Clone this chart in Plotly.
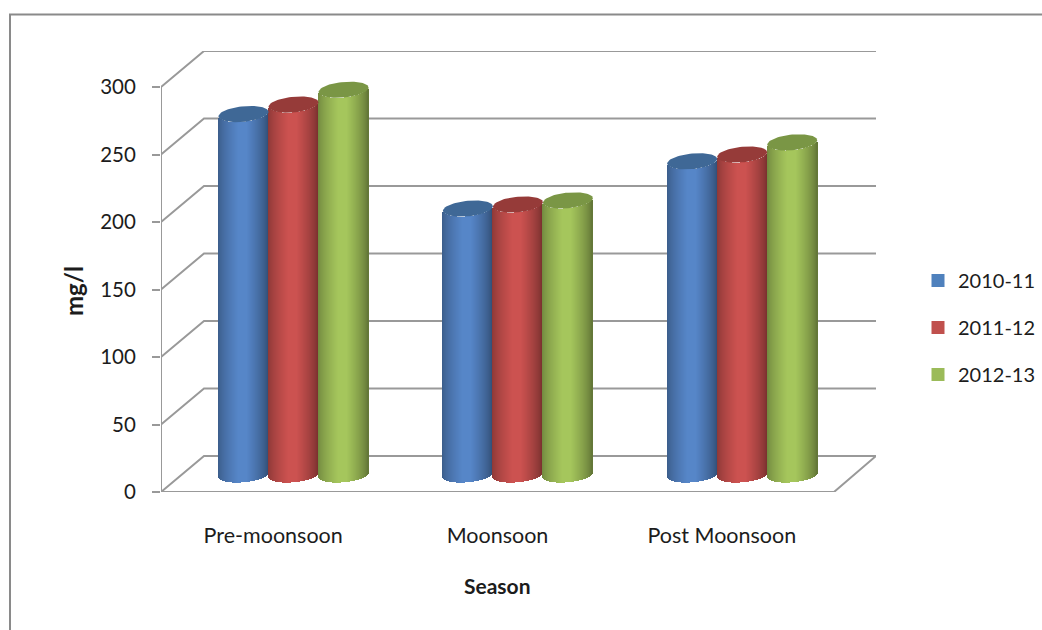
import numpy as np
import plotly.graph_objects as go

# Chart data
seasons = ["Pre-moonsoon", "Moonsoon", "Post Moonsoon"]
years = ["2010-11", "2011-12", "2012-13"]
values_2010 = [267, 197, 232]
values_2011 = [274, 200, 237]
values_2012 = [285, 203, 246]
y_ticks = [0, 50, 100, 150, 200, 250, 300]

series_values = [values_2010, values_2011, values_2012]
flat_colors = ["#4f81bd", "#c0504d", "#9bbb59"]
bright_colors = [(86, 134, 200), (204, 82, 80), (165, 198, 92)]
cap_colors = ["#3f6896", "#963b39", "#7a9645"]

# Page geometry, in pixels
FIG_W, FIG_H = 1042, 630
LEFT, RIGHT, TOP, ZERO_Y = 161, 876, 51, 492
FRONT_W = 673                 # width of the front floor edge
DEPTH_X, DEPTH_Y = 43, 36     # oblique offset of the back wall
PX_PER_UNIT = 405 / 300
PX_PER_CAT = FRONT_W / 3
CYL_PX = 50                   # cylinder diameter
SKEW, SQUASH = 2.2, 7.8       # shape of the sheared end ellipses

x_min = -0.5
x_max = x_min + (RIGHT - LEFT) / PX_PER_CAT
depth_x = DEPTH_X / PX_PER_CAT
depth_v = DEPTH_Y / PX_PER_UNIT
mid_x = 0.5 * depth_x - 0.005
mid_v = 17.5 / PX_PER_UNIT
floor_end = x_min + FRONT_W / PX_PER_CAT


def shade(rgb, u):
    """Horizontal cylinder shading for u in [-1, 1]."""
    left = np.clip((u + 1) / 0.8, 0, 1)
    right = np.clip((1 - u) / 0.85, 0, 1)
    f = min(0.68 + 0.32 * left ** 0.7, 0.58 + 0.42 * right ** 0.7)
    return "rgb(%d,%d,%d)" % tuple(int(c * f) for c in rgb)


fig = go.Figure()

slice_u = (np.arange(CYL_PX) + 0.5) / (CYL_PX / 2) - 1
slice_w = 1.0 / PX_PER_CAT
radius = (CYL_PX / 2) / PX_PER_CAT

for s, vals in enumerate(series_values):
    xs, bases, heights, colors = [], [], [], []
    for c, v in enumerate(vals):
        cx = c + mid_x + (s - 1) * CYL_PX / PX_PER_CAT
        for u in slice_u:
            xs.append(cx + u * radius)
            bases.append(mid_v + (SKEW * u - SQUASH * np.sqrt(1 - u * u)) / PX_PER_UNIT)
            heights.append(v)
            colors.append(shade(bright_colors[s], u))
    fig.add_trace(go.Bar(
        x=xs, y=heights, base=bases, width=slice_w,
        marker=dict(color=colors, line=dict(width=0)),
        showlegend=False, hoverinfo="skip", cliponaxis=False,
    ))

# Cylinder top caps
t = np.linspace(0, 2 * np.pi, 73)
for s, vals in enumerate(series_values):
    for c, v in enumerate(vals):
        cx = c + mid_x + (s - 1) * CYL_PX / PX_PER_CAT
        fig.add_trace(go.Scatter(
            x=cx + radius * np.cos(t),
            y=v + mid_v + (SKEW * np.cos(t) + SQUASH * np.sin(t)) / PX_PER_UNIT,
            mode="lines", fill="toself", fillcolor=cap_colors[s],
            line=dict(width=0), showlegend=False, hoverinfo="skip",
            cliponaxis=False,
        ))

# Legend entries
for name, col in zip(years, flat_colors):
    fig.add_trace(go.Scatter(
        x=[None], y=[None], mode="markers", name=name, legendgroup=name,
        marker=dict(symbol="square", size=13, color=col),
    ))

# Walls and floor of the 3D frame
GRID = "#999999"
shapes = []
for v in y_ticks[1:]:
    shapes.append(dict(
        type="path", xref="x", yref="y", layer="below",
        path=f"M {x_min} {v} L {x_min + depth_x} {v + depth_v} L {x_max} {v + depth_v}",
        line=dict(color=GRID, width=2),
    ))
shapes.append(dict(
    type="path", xref="x", yref="y", layer="below",
    path=(f"M {x_min} 0 L {floor_end} 0 L {x_max} {depth_v} "
          f"L {x_min + depth_x} {depth_v} Z"),
    line=dict(color=GRID, width=2),
))
shapes.append(dict(
    type="line", xref="x", yref="y", layer="below",
    x0=x_min, x1=x_min, y0=0, y1=300, line=dict(color=GRID, width=2),
))

# Outer chart border
def page_x(px):
    return (px - LEFT) / (RIGHT - LEFT)


def page_y(py):
    return (ZERO_Y - py) / (ZERO_Y - TOP)


shapes.append(dict(
    type="path", xref="paper", yref="paper", layer="below",
    path=(f"M {page_x(10)} {page_y(632)} L {page_x(10)} {page_y(14.5)} "
          f"L {page_x(1044)} {page_y(14.5)}"),
    line=dict(color="#8a8a8a", width=2),
))

FONT = "Lato, Carlito, sans-serif"
TEXT = "#1c1c1c"

# Axis titles sit under the floor centre and beside the value axis
annotations = [
    dict(text="<b>Season</b>", xref="x", yref="paper", x=1, y=page_y(585),
         xanchor="center", yanchor="middle", showarrow=False,
         font=dict(size=21, color=TEXT)),
    dict(text="<b>mg/l</b>", xref="paper", yref="paper", x=page_x(73), y=page_y(291),
         xanchor="center", yanchor="middle", textangle=-90, showarrow=False,
         font=dict(size=24, color=TEXT)),
]

fig.update_layout(
    width=FIG_W, height=FIG_H,
    margin=dict(l=LEFT, r=FIG_W - RIGHT, t=TOP, b=FIG_H - ZERO_Y, autoexpand=False),
    paper_bgcolor="white", plot_bgcolor="white",
    barmode="overlay", bargap=0,
    shapes=shapes, annotations=annotations,
    font=dict(family=FONT, size=20, color=TEXT),
    legend=dict(
        x=page_x(918), y=page_y(261), xanchor="left", yanchor="top",
        tracegroupgap=18, font=dict(size=20, color=TEXT),
        bgcolor="rgba(0,0,0,0)", itemwidth=30,
    ),
    xaxis=dict(
        range=[x_min, x_max], tickmode="array", tickvals=[0, 1, 2], ticktext=seasons,
        showgrid=False, zeroline=False, showline=False, ticks="",
        ticklabelstandoff=28, tickfont=dict(size=21.5),
    ),
    yaxis=dict(
        range=[0, 300 + depth_v], tickmode="array", tickvals=y_ticks,
        showgrid=False, zeroline=False, showline=False,
        ticks="outside", ticklen=8, tickwidth=2, tickcolor=GRID,
        ticklabelstandoff=12, tickfont=dict(size=20.5),
    ),
)

fig.write_html("out.html")
